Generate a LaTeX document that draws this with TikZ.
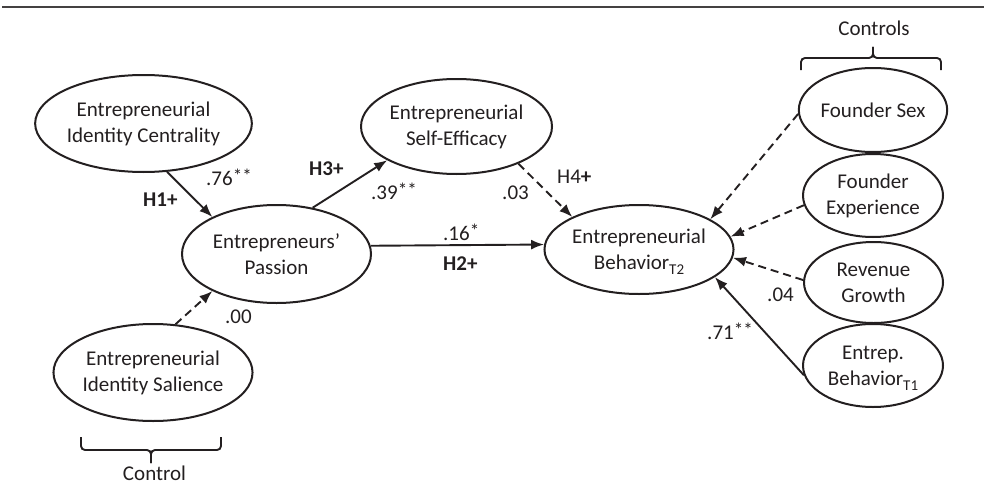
\documentclass[tikz,border=0pt]{standalone}
\usepackage{fontspec}
\setmainfont{Carlito}
\usetikzlibrary{shapes.geometric,arrows.meta}
\definecolor{ink}{RGB}{35,31,32}
\newcommand{\mysup}[1]{\raisebox{3pt}[0pt][0pt]{\fontsize{19}{19}\selectfont #1}}
\newcommand{\mysub}[1]{\raisebox{-5pt}[0pt][0pt]{\fontsize{15}{15}\selectfont #1}}
\tikzset{
  latent/.style={ellipse, draw=ink, line width=2pt, inner sep=0pt, align=center, text=ink,
     font=\fontsize{21}{26}\selectfont},
  path/.style={draw=ink, line width=1.9pt, -{Latex[length=13pt,width=10pt]}},
  npath/.style={path, dash pattern=on 8pt off 5pt},
  lab/.style={anchor=base west, inner sep=0pt, text=ink, font=\fontsize{21}{26}\selectfont},
  brace/.style={draw=ink, line width=1.9pt, rounded corners=4pt}
}
\begin{document}
\begin{tikzpicture}[x=1pt,y=-1pt]
\useasboundingbox (0,0) rectangle (984,487);
\draw[draw=ink!85, line width=2pt] (2,7) -- (984,7);

% latent variables
\node[latent, minimum width=195pt, minimum height=97pt] (eic) at (143.5,123.5) {Entrepreneurial\\Identity Centrality};
\node[latent, minimum width=189pt, minimum height=98pt] (pas) at (276.5,254) {Entrepreneurs’\\Passion};
\node[latent, minimum width=198pt, minimum height=97pt] (isal) at (153,372.5) {Entrepreneurial\\Identity Salience};
\node[latent, minimum width=191pt, minimum height=95pt] (se) at (456.5,126.5) {Entrepreneurial\\Self-Efficacy};
\node[latent, minimum width=176pt, minimum height=89pt] (eb2) at (639,249.5) {Entrepreneurial\\Behavior\mysub{T2}};
\node[latent, minimum width=140pt, minimum height=84pt] (fs) at (873,110) {Founder Sex};
\node[latent, minimum width=140pt, minimum height=83pt] (fe) at (873,195.5) {Founder\\Experience};
\node[latent, minimum width=139pt, minimum height=81pt] (rev) at (873.5,282.5) {Revenue\\Growth};
\node[latent, minimum width=140pt, minimum height=83pt] (eb1) at (873,365.5) {Entrep.\\Behavior\mysub{T1}};

% paths
\draw[path] (eic.-64) -- (pas.150);
\draw[path] (pas.52) -- (se.206);
\draw[path] (pas.5) -- (eb2.177.7);
\draw[npath] (se.-31) -- (eb2.154);
\draw[npath] (isal.65) -- (pas.210);
\draw[npath] (fs.183) -- (eb2.23);
\draw[npath] (fe.188) -- (eb2.8);
\draw[npath] (rev.178) -- (eb2.-5.5);
\draw[path] (eb1.188) -- (eb2.-20);

% labels
\node[lab] (l76) at (206,185) {.76\mysup{**}};
\node[lab] (h1) at (143,206) {\textbf{H1+}};
\node[lab] (h3) at (309,175) {\textbf{H3+}};
\node[lab] (l39) at (371,199) {.39\mysup{**}};
\node[lab] (l03) at (502,199) {.03};
\node[lab] (h4) at (557,183) {H4\textbf{+}};
\node[lab] (l16) at (443,240) {.16\mysup{*}};
\node[lab] (h2) at (443,270) {\textbf{H2+}};
\node[lab] (l00) at (225,323) {.00};
\node[lab] (l04) at (767,301) {.04};
\node[lab] (l71) at (707,339) {.71\mysup{**}};

% braces
\draw[brace] (801,70) -- (801,58) -- (873,58) -- (873,47);
\draw[brace] (873,47) -- (873,58) -- (941,58) -- (941,70);
\node[lab, anchor=base] (ctrls) at (874,36) {Controls};
\draw[brace] (81,437) -- (81,450) -- (151,450) -- (151,463);
\draw[brace] (151,463) -- (151,450) -- (221,450) -- (221,437);
\node[lab, anchor=base] (ctrl) at (154.5,480) {Control};
\end{tikzpicture}
\end{document}
